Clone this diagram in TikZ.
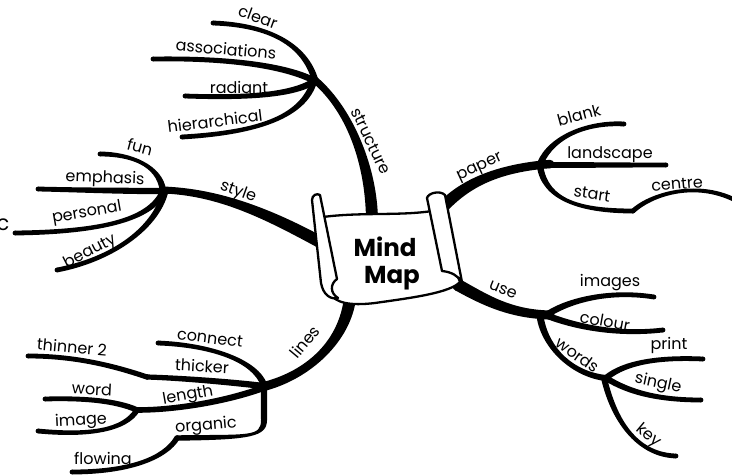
\documentclass[tikz,border=0pt]{standalone}
\usepackage{fontspec}
\setmainfont{Poppins}
\usetikzlibrary{calc}
\newcommand\mmtaper[6]{%
 \fill ($(#1)!#5!90:(#2)$) .. controls ($(#2)!#5!-90:(#1)$) and ($(#3)!#6!90:(#4)$) .. ($(#4)!#6!-90:(#3)$)
   -- ($(#4)!#6!90:(#3)$) .. controls ($(#3)!#6!-90:(#4)$) and ($(#2)!#5!90:(#1)$) .. ($(#1)!#5!-90:(#2)$) -- cycle;
 \fill (#4) circle[radius=#6]; \fill (#1) circle[radius=#5];}
\tikzset{
 lbl/.style={font=\fontsize{16}{18}\selectfont, inner sep=0pt},
 title/.style={font=\fontsize{24.5}{28}\selectfont\bfseries, inner sep=0pt, anchor=base},
 scroll/.style={draw=black, fill=white, line width=2.3pt, line join=round}
}
\begin{document}
\begin{tikzpicture}[x=1pt,y=-1pt]
\useasboundingbox[fill=white] (0,0) rectangle (732,475);
% ---------- main branches
\coordinate (st0) at (372,222); \coordinate (st1) at (372,170); \coordinate (st2) at (352,112); \coordinate (st3) at (315,80);
\coordinate (sy0) at (320,242); \coordinate (sy1) at (270,215); \coordinate (sy2) at (220,192); \coordinate (sy3) at (163,190);
\coordinate (pa0) at (440,210); \coordinate (pa1) at (465,182); \coordinate (pa2) at (500,168); \coordinate (pa3) at (550,164);
\coordinate (us0) at (458,285); \coordinate (us1) at (485,300); \coordinate (us2) at (510,314); \coordinate (us3) at (550,315);
\coordinate (li0) at (350,298); \coordinate (li1) at (345,340); \coordinate (li2) at (310,375); \coordinate (li3) at (262,387);
\mmtaper{st0}{st1}{st2}{st3}{6pt}{3.5pt}
\mmtaper{sy0}{sy1}{sy2}{sy3}{6pt}{3.5pt}
\mmtaper{pa0}{pa1}{pa2}{pa3}{6pt}{4.2pt}
\mmtaper{us0}{us1}{us2}{us3}{6pt}{4.5pt}
\mmtaper{li0}{li1}{li2}{li3}{6pt}{4.5pt}
% ---------- structure subs
\coordinate (cl0) at (315,80); \coordinate (cl1) at (305,45); \coordinate (cl2) at (270,25); \coordinate (cl3) at (213,23);
\coordinate (as0) at (313,80); \coordinate (as1) at (280,64); \coordinate (as2) at (220,58); \coordinate (as3) at (153,59);
\coordinate (ra0) at (313,82); \coordinate (ra1) at (290,96); \coordinate (ra2) at (240,98); \coordinate (ra3) at (185,96);
\coordinate (hi0) at (313,84); \coordinate (hi1) at (300,120); \coordinate (hi2) at (250,133); \coordinate (hi3) at (182,137);
\mmtaper{cl0}{cl1}{cl2}{cl3}{3.2pt}{2.4pt}
\mmtaper{as0}{as1}{as2}{as3}{3.2pt}{2.4pt}
\mmtaper{ra0}{ra1}{ra2}{ra3}{3.2pt}{2.4pt}
\mmtaper{hi0}{hi1}{hi2}{hi3}{3.2pt}{2.4pt}
% ---------- style subs
\coordinate (fu0) at (163,191); \coordinate (fu1) at (160,165); \coordinate (fu2) at (130,154); \coordinate (fu3) at (100,154);
\coordinate (em0) at (163,191); \coordinate (em1) at (120,191); \coordinate (em2) at (80,190); \coordinate (em3) at (38,189);
\coordinate (pe0) at (163,192); \coordinate (pe1) at (150,220); \coordinate (pe2) at (100,232); \coordinate (pe3) at (15,233);
\coordinate (be0) at (165,192); \coordinate (be1) at (155,230); \coordinate (be2) at (110,260); \coordinate (be3) at (57,270);
\mmtaper{fu0}{fu1}{fu2}{fu3}{3.2pt}{2.4pt}
\mmtaper{em0}{em1}{em2}{em3}{3.2pt}{2.4pt}
\mmtaper{pe0}{pe1}{pe2}{pe3}{3.2pt}{2.4pt}
\mmtaper{be0}{be1}{be2}{be3}{3.2pt}{2.4pt}
% ---------- paper subs
\coordinate (bl0) at (540,164); \coordinate (bl1) at (552,135); \coordinate (bl2) at (590,122); \coordinate (bl3) at (624,124);
\coordinate (la0) at (545,165); \coordinate (la1) at (580,165); \coordinate (la2) at (620,165); \coordinate (la3) at (666,165);
\coordinate (sa0) at (540,166); \coordinate (sa1) at (545,200); \coordinate (sa2) at (580,211); \coordinate (sa3) at (633,211);
\coordinate (ce0) at (633,211); \coordinate (ce1) at (650,195); \coordinate (ce2) at (695,180); \coordinate (ce3) at (735,200);
\mmtaper{bl0}{bl1}{bl2}{bl3}{3.2pt}{2.4pt}
\mmtaper{la0}{la1}{la2}{la3}{3pt}{2.4pt}
\mmtaper{sa0}{sa1}{sa2}{sa3}{3.2pt}{2.4pt}
\mmtaper{ce0}{ce1}{ce2}{ce3}{2.4pt}{2.2pt}
% ---------- use subs
\coordinate (im0) at (548,314); \coordinate (im1) at (570,300); \coordinate (im2) at (610,290); \coordinate (im3) at (654,297);
\coordinate (co0) at (548,316); \coordinate (co1) at (580,328); \coordinate (co2) at (620,335); \coordinate (co3) at (663,330);
\coordinate (wo0) at (540,316); \coordinate (wo1) at (545,350); \coordinate (wo2) at (575,375); \coordinate (wo3) at (606,378);
\coordinate (pr0) at (606,378); \coordinate (pr1) at (625,362); \coordinate (pr2) at (660,357); \coordinate (pr3) at (703,359);
\coordinate (si0) at (606,378); \coordinate (si1) at (630,393); \coordinate (si2) at (660,400); \coordinate (si3) at (701,400);
\coordinate (ke0) at (604,378); \coordinate (ke1) at (615,425); \coordinate (ke2) at (640,455); \coordinate (ke3) at (676,456);
\mmtaper{im0}{im1}{im2}{im3}{3.2pt}{2.4pt}
\mmtaper{co0}{co1}{co2}{co3}{3.2pt}{2.4pt}
\mmtaper{wo0}{wo1}{wo2}{wo3}{3.5pt}{3pt}
\mmtaper{pr0}{pr1}{pr2}{pr3}{3pt}{2.4pt}
\mmtaper{si0}{si1}{si2}{si3}{3pt}{2.4pt}
\mmtaper{ke0}{ke1}{ke2}{ke3}{3pt}{2.4pt}
% ---------- lines subs
\coordinate (cn0) at (264,385); \coordinate (cn1) at (255,360); \coordinate (cn2) at (210,345); \coordinate (cn3) at (158,343);
\coordinate (tk0) at (263,386); \coordinate (tk1) at (230,382); \coordinate (tk2) at (180,378); \coordinate (tk3) at (147,377);
\coordinate (tn0) at (147,377); \coordinate (tn1) at (120,368); \coordinate (tn2) at (80,356); \coordinate (tn3) at (28,356);
\coordinate (le0) at (263,388); \coordinate (le1) at (230,400); \coordinate (le2) at (180,410); \coordinate (le3) at (137,410);
\coordinate (wd0) at (137,410); \coordinate (wd1) at (115,400); \coordinate (wd2) at (80,398); \coordinate (wd3) at (45,399);
\coordinate (ig0) at (137,410); \coordinate (ig1) at (125,430); \coordinate (ig2) at (90,436); \coordinate (ig3) at (38,431);
\coordinate (og0) at (264,388); \coordinate (og1) at (264,400); \coordinate (og2) at (264,410); \coordinate (og3) at (264,420);
\coordinate (oh0) at (264,420); \coordinate (oh1) at (264,437); \coordinate (oh2) at (250,437); \coordinate (oh3) at (177,438);
\coordinate (fl0) at (177,438); \coordinate (fl1) at (165,458); \coordinate (fl2) at (130,472); \coordinate (fl3) at (72,472);
\mmtaper{cn0}{cn1}{cn2}{cn3}{3.2pt}{2.4pt}
\mmtaper{tk0}{tk1}{tk2}{tk3}{3.2pt}{2.6pt}
\mmtaper{tn0}{tn1}{tn2}{tn3}{2.6pt}{2.4pt}
\mmtaper{le0}{le1}{le2}{le3}{3.2pt}{2.8pt}
\mmtaper{wd0}{wd1}{wd2}{wd3}{2.8pt}{2.4pt}
\mmtaper{ig0}{ig1}{ig2}{ig3}{2.8pt}{2.4pt}
\mmtaper{og0}{og1}{og2}{og3}{3.2pt}{3pt}
\mmtaper{oh0}{oh1}{oh2}{oh3}{3pt}{2.7pt}
\mmtaper{fl0}{fl1}{fl2}{fl3}{2.7pt}{2.4pt}
% ---------- scroll
\draw[scroll] (323,217) .. controls (360,212) and (400,216) .. (432,211) -- (460,282)
  .. controls (450,293) and (410,298) .. (375,303) .. controls (350,306) and (335,303) .. (330,293) -- cycle;
\draw[scroll] (312,200) .. controls (312,195) and (317,193) .. (320,195) -- (337,279)
  .. controls (330,284) and (330,293) .. (338,298) .. controls (330,300) and (323,294) .. (321,283) -- cycle;
\draw[scroll] (427,198) .. controls (428,193) and (440,190) .. (445,195) -- (462,282)
  .. controls (458,276) and (452,272) .. (442,271) -- cycle;
\node[title] (mind) at (385,256) {Mind};
\node[title] (map) at (392,283) {Map};
% ---------- labels
\node[lbl, rotate=-20] (lclear) at (258,17) {clear};
\node[lbl, rotate=-5] (lassoc) at (226,49) {associations};
\node[lbl] (lradiant) at (239,87) {radiant};
\node[lbl, rotate=7] (lhier) at (215,121) {hierarchical};
\node[lbl, rotate=-64] (lstruct) at (371,141) {structure};
\node[lbl, rotate=-15] (lfun) at (140,147) {fun};
\node[lbl, rotate=-2] (lemph) at (105,179) {emphasis};
\node[lbl, rotate=10] (lpers) at (87,213) {personal};
\node[lbl, rotate=27] (lbeauty) at (90,252) {beauty};
\node[lbl, rotate=-20] (lstyle) at (238,192) {style};
\node[lbl, font=\fontsize{21}{24}\selectfont] (lc) at (3,225) {c};
\node[lbl, rotate=25] (lpaper) at (480,168) {paper};
\node[lbl, rotate=15] (lblank) at (579,115) {blank};
\node[lbl] (lland) at (610,155) {landscape};
\node[lbl, rotate=-8] (lstart) at (592,194) {start};
\node[lbl, rotate=5] (lcentre) at (677,184) {centre};
\node[lbl, rotate=-22] (luse) at (503,290) {use};
\node[lbl] (limages) at (610,283) {images};
\node[lbl, rotate=-10] (lcolour) at (605,321) {colour};
\node[lbl, rotate=-35] (lwords) at (578,355) {words};
\node[lbl] (lprint) at (669,345) {print};
\node[lbl, rotate=-12] (lsingle) at (658,384) {single};
\node[lbl, rotate=-40] (lkey) at (648,436) {key};
\node[lbl, rotate=50] (llines) at (305,342) {lines};
\node[lbl, rotate=-7] (lconnect) at (210,338) {connect};
\node[lbl, rotate=-5] (lthinner) at (72,347) {thinner 2};
\node[lbl, rotate=-3] (lthicker) at (202,366) {thicker};
\node[lbl, rotate=10] (llength) at (188,396) {length};
\node[lbl, rotate=-3] (lword) at (92,389) {word};
\node[lbl, rotate=3] (limage) at (81,421) {image};
\node[lbl, rotate=5] (lorganic) at (206,426) {organic};
\node[lbl] (lflowing) at (103,461) {flowing};
\end{tikzpicture}
\end{document}
